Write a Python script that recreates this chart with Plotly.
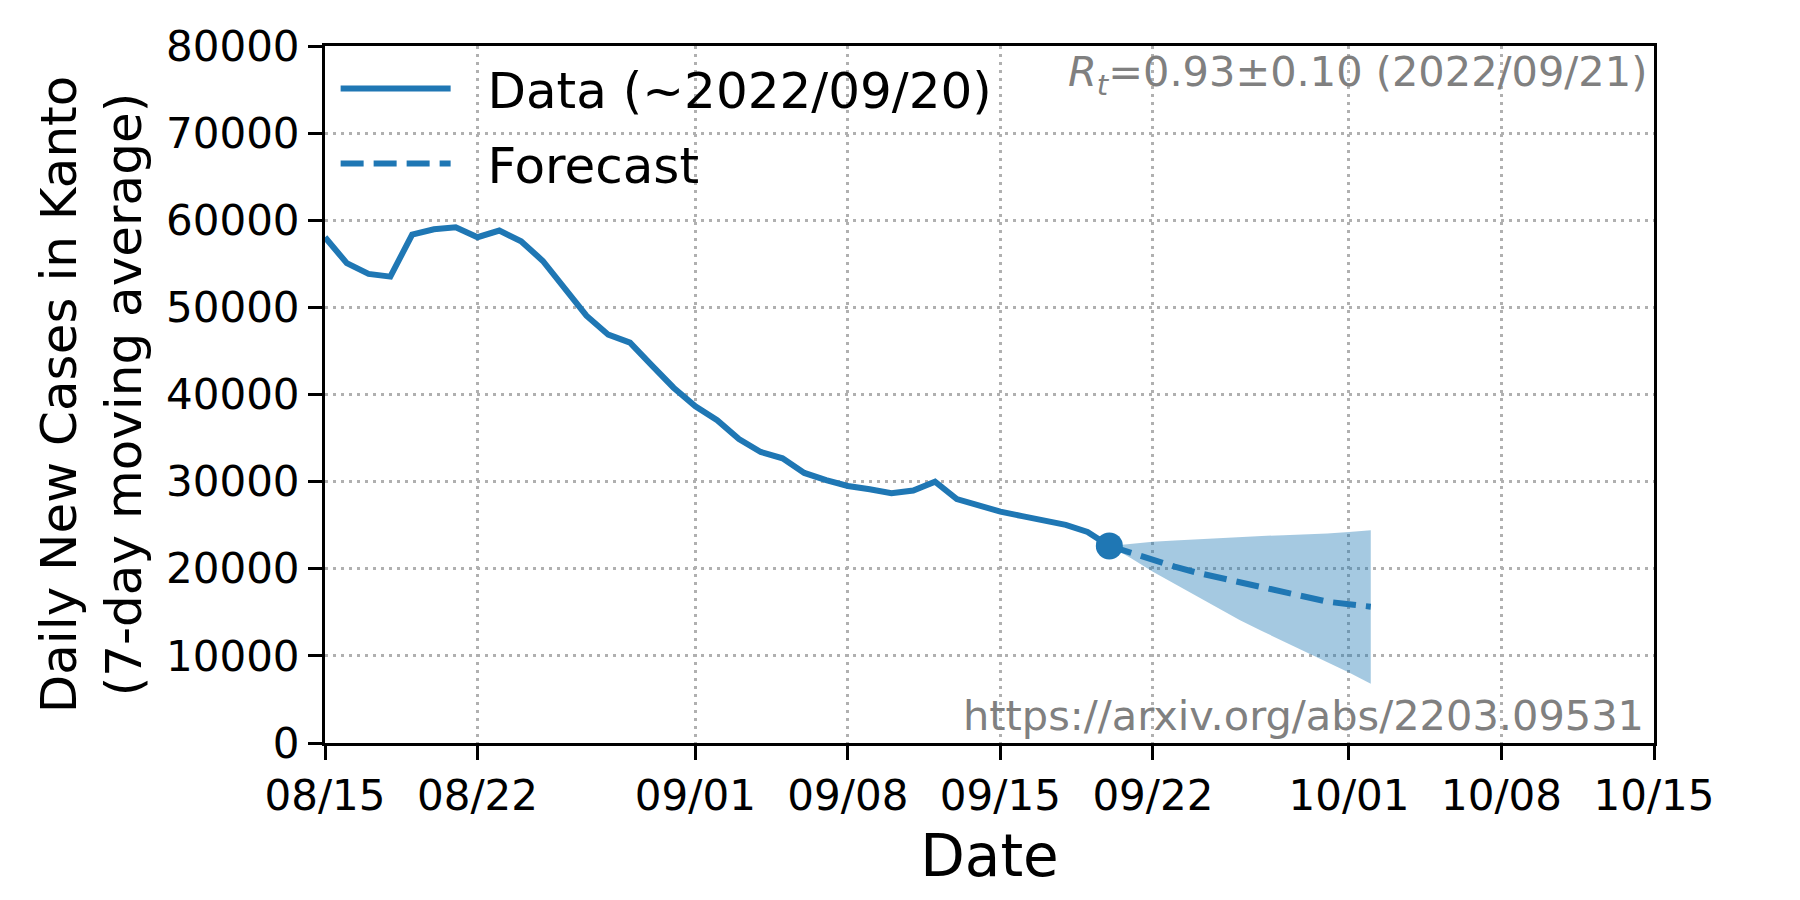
import plotly.graph_objects as go
import pandas as pd

# ---- data ----
data_dates = pd.date_range("2022-08-15", "2022-09-20", freq="D").strftime("%Y-%m-%d").tolist()
data_values = [58050, 55070, 53840, 53530, 58360, 58970, 59200, 58050, 58820, 57590,
               55330, 52270, 49050, 46870, 45960, 43350, 40780, 38650, 37050, 34880,
               33400, 32680, 31000, 30170, 29500, 29120, 28660, 28970, 30000, 28000,
               27210, 26560, 26040, 25490, 25030, 24230, 22620]

fc_dates = pd.date_range("2022-09-20", "2022-10-02", freq="D").strftime("%Y-%m-%d").tolist()
fc_values = [22620, 21780, 21010, 20240, 19560, 18980, 18410, 17830, 17260, 16680, 16220, 15920, 15650]
fc_upper = [22620, 22900, 23110, 23250, 23400, 23550, 23690, 23770, 23840, 23920, 24050, 24220, 24420]
fc_lower = [22620, 21200, 19670, 18280, 16800, 15430, 14100, 12850, 11650, 10450, 9300, 8100, 6800]

x_tick_vals = ["2022-08-15", "2022-08-22", "2022-09-01", "2022-09-08", "2022-09-15",
               "2022-09-22", "2022-10-01", "2022-10-08", "2022-10-15"]
y_tick_vals = [0, 10000, 20000, 30000, 40000, 50000, 60000, 70000, 80000]

rt_text = "<i>R</i><sub><i>t</i></sub>=0.93±0.10 (2022/09/21)"
url_text = "https://arxiv.org/abs/2203.09531"
legend_pad = "\u00a0\u00a0"

BLUE = "#1f77b4"
FONT = "DejaVu Sans"

fig = go.Figure()

# forecast band
fig.add_trace(go.Scatter(x=fc_dates, y=fc_upper, mode="lines", line=dict(width=0),
                         showlegend=False, hoverinfo="skip", name="upper"))
fig.add_trace(go.Scatter(x=fc_dates, y=fc_lower, mode="lines", line=dict(width=0),
                         fill="tonexty", fillcolor="rgba(31,119,180,0.4)",
                         showlegend=False, hoverinfo="skip", name="lower"))

# data line
fig.add_trace(go.Scatter(x=data_dates, y=data_values, mode="lines", legendgroup="a",
                         line=dict(color=BLUE, width=6), name=legend_pad + "Data (~2022/09/20)"))
# forecast line
fig.add_trace(go.Scatter(x=fc_dates, y=fc_values, mode="lines", legendgroup="b",
                         line=dict(color=BLUE, width=6, dash="23px,10px"), name=legend_pad + "Forecast"))
# last data point marker
fig.add_trace(go.Scatter(x=[data_dates[-1]], y=[data_values[-1]], mode="markers",
                         marker=dict(color=BLUE, size=27), showlegend=False, name="latest"))

axis_common = dict(
    showline=True, linewidth=3, linecolor="black", mirror=True,
    ticks="outside", ticklen=14, tickwidth=3, tickcolor="black",
    showgrid=True, gridcolor="#b0b0b0", gridwidth=3, griddash="3px,5px",
    zeroline=False,
    tickfont=dict(family=FONT, size=42, color="black"),
)

fig.update_xaxes(type="date", range=["2022-08-15", "2022-10-15"],
                 tickvals=x_tick_vals, tickformat="%m/%d",
                 title=dict(text="Date", font=dict(family=FONT, size=58, color="black"), standoff=16),
                 **axis_common)
fig.update_yaxes(range=[0, 80000], tickvals=y_tick_vals, tickformat="d",
                 title=dict(text="Daily New Cases in Kanto<br>(7-day moving average)",
                            font=dict(family=FONT, size=50, color="black"), standoff=9),
                 **axis_common)

fig.add_annotation(text=rt_text, xref="paper", yref="paper", x=0.996, y=1.002,
                   xanchor="right", yanchor="top", showarrow=False,
                   font=dict(family=FONT, size=41.5, color="gray"))
fig.add_annotation(text=url_text, xref="paper", yref="paper", x=0.994, y=0.002,
                   xanchor="right", yanchor="bottom", showarrow=False,
                   font=dict(family=FONT, size=41.5, color="gray"))

fig.update_layout(
    width=1784, height=884,
    margin=dict(l=317, r=138, t=38, b=149),
    plot_bgcolor="white", paper_bgcolor="white",
    font=dict(family=FONT, color="black"),
    legend=dict(x=0.008, y=0.995, xanchor="left", yanchor="top", traceorder="grouped",
                bgcolor="rgba(0,0,0,0)", font=dict(family=FONT, size=50, color="black"),
                itemwidth=110, tracegroupgap=7),
)

fig.write_html("out.html")
